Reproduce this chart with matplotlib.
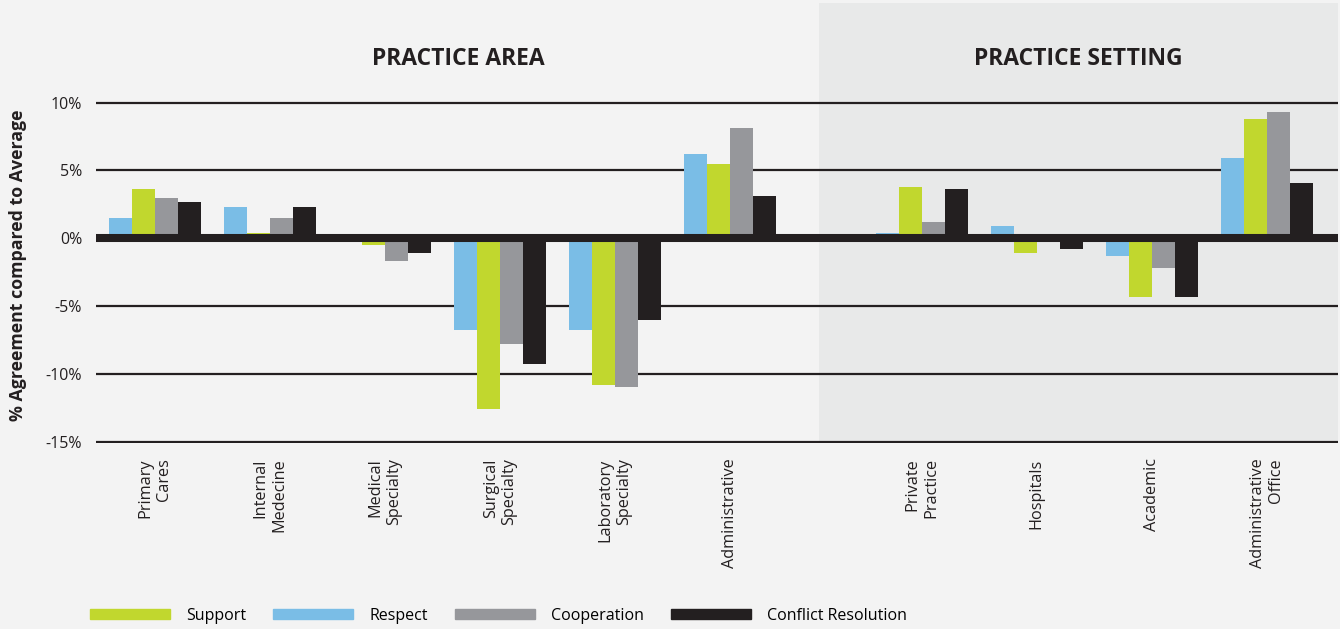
import matplotlib.pyplot as plt
from matplotlib.patches import Patch
import numpy as np

plt.rcParams['font.family'] = ['Open Sans', 'DejaVu Sans']

# categories (practice area, then practice setting)
area_labels = ['Primary\nCares', 'Internal\nMedecine', 'Medical\nSpecialty',
               'Surgical\nSpecialty', 'Laboratory\nSpecialty', 'Administrative']
setting_labels = ['Private\nPractice', 'Hospitals', 'Academic', 'Administrative\nOffice']

# % agreement compared to average
respect = [1.5, 2.3, 0.0, -6.8, -6.8, 6.2, 0.4, 0.9, -1.3, 5.9]
support = [3.6, 0.4, -0.5, -12.6, -10.8, 5.5, 3.8, -1.1, -4.3, 8.8]
cooperation = [3.0, 1.5, -1.7, -7.8, -11.0, 8.1, 1.2, 0.0, -2.2, 9.3]
conflict = [2.7, 2.3, -1.1, -9.3, -6.0, 3.1, 3.6, -0.8, -4.3, 4.1]

yticks = [-15, -10, -5, 0, 5, 10]

GREEN = '#c1d72e'
BLUE = '#7abde6'
GRAY = '#96979b'
BLACK = '#231f20'

fig = plt.figure(figsize=(13.4, 6.29), dpi=100, facecolor='#f3f3f3')
ax = fig.add_axes([96 / 1340, (629 - 443) / 629, (1338 - 96) / 1340, (443 - 3) / 629])
ax.set_facecolor('none')

x = np.concatenate([np.arange(6), 6.67 + np.arange(4)])
w = 0.2

ax.axvspan(5.774, 10.29, color='#e8e9e9', zorder=0, lw=0)

for y in yticks:
    if y != 0:
        ax.axhline(y, color=BLACK, lw=1.6, zorder=1)

series = [(respect, BLUE), (support, GREEN), (cooperation, GRAY), (conflict, BLACK)]
for i, (vals, col) in enumerate(series):
    ax.bar(x + (i - 1.5) * w, vals, width=w, color=col, zorder=2, lw=0)

# thick zero band
ax.axhline(0, color=BLACK, lw=5.8, zorder=3)

ax.set_xlim(-0.513, 10.29)
ax.set_ylim(-15.1, 17.35)
ax.set_yticks(yticks)
ax.set_yticklabels(['%d%%' % v for v in yticks], fontsize=11.5, color='#231f20')
ax.set_xticks(x)
ax.set_xticklabels(area_labels + setting_labels, rotation=90, fontsize=11.7,
                   multialignment='right', color='#231f20')
ax.tick_params(length=0)
ax.tick_params(axis='y', pad=10)
ax.tick_params(axis='x', pad=11)
for s in ax.spines.values():
    s.set_visible(False)

ax.text(2.64, 13.2, 'PRACTICE AREA', ha='center', va='center', fontsize=16.5,
        fontweight='bold', color=BLACK)
ax.text(8.03, 13.2, 'PRACTICE SETTING', ha='center', va='center', fontsize=16.5,
        fontweight='bold', color=BLACK)

fig.text(18 / 1340, 0.578, '% Agreement compared to Average', rotation=90,
         ha='center', va='center', fontsize=12.8, fontweight='bold', color=BLACK)

handles = [Patch(color=GREEN), Patch(color=BLUE), Patch(color=GRAY), Patch(color=BLACK)]
fig.legend(handles, ['Support', 'Respect', 'Cooperation', 'Conflict Resolution'],
           loc='center left', bbox_to_anchor=(76 / 1340, (629 - 616) / 629), ncol=4,
           frameon=False, fontsize=11.5, handlelength=5.0, handleheight=0.6,
           handletextpad=1.0, columnspacing=1.7)

fig.savefig('out.png', dpi=100, facecolor=fig.get_facecolor())
